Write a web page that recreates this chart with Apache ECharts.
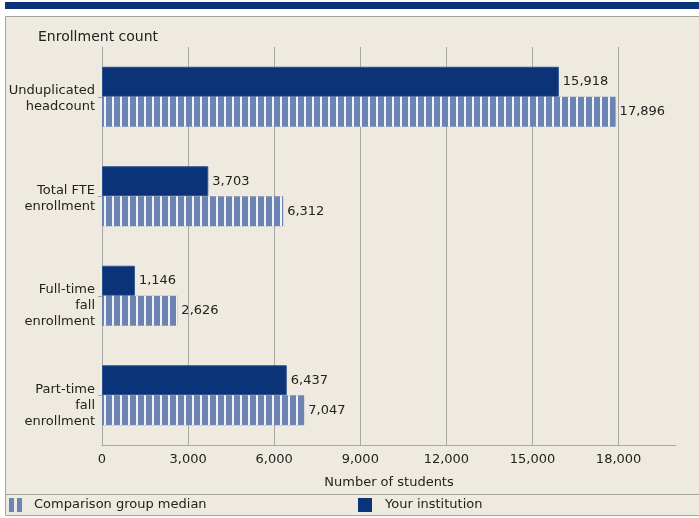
<!DOCTYPE html>
<html>
<head>
<meta charset="utf-8">
<script src="https://cdn.jsdelivr.net/npm/echarts@6/dist/echarts.min.js"></script>
<style>
  html, body { margin: 0; padding: 0; background: #ffffff; }
  #chart { width: 699px; height: 518px; }
</style>
</head>
<body>
<div id="chart"></div>
<script>
const categories = [
  'Unduplicated\nheadcount',
  'Total FTE\nenrollment',
  'Full-time\nfall\nenrollment',
  'Part-time\nfall\nenrollment'
];
const yourInstitution = [15918, 3703, 1146, 6437];
const comparisonMedian = [17896, 6312, 2626, 7047];
const xTicks = [0, 3000, 6000, 9000, 12000, 15000, 18000];
const xMax = 20000;

const FONT = '"DejaVu Sans", Verdana, sans-serif';
const TXT = '#222222';
const NAVY = '#0A3378';
const LIGHT = '#6C84B3';
const BG = '#EEEAE0';
const GRID = '#A8A8A2';

const fmt = v => Number(v).toLocaleString('en-US');

const chart = echarts.init(document.getElementById('chart'), null, { renderer: 'canvas' });

const splitColors = xTicks.map(() => GRID).concat(['rgba(0,0,0,0)']);

chart.setOption({
  animation: false,
  backgroundColor: '#ffffff',
  textStyle: { fontFamily: FONT },
  graphic: [
    { type: 'rect', z: -10, shape: { x: 5, y: 2, width: 694, height: 7 }, style: { fill: NAVY } },
    { type: 'rect', z: -10, shape: { x: 5.5, y: 16.5, width: 700, height: 499 }, style: { fill: BG, stroke: '#A5A49C', lineWidth: 1 } },
    { type: 'line', z: -9, shape: { x1: 5, y1: 494.5, x2: 699, y2: 494.5 }, style: { stroke: '#A5A49C', lineWidth: 1 } }
  ],
  title: {
    text: 'Enrollment count',
    left: 38, top: 30, padding: 0,
    textStyle: { fontFamily: FONT, fontSize: 14, fontWeight: 'normal', color: TXT }
  },
  legend: [
    {
      data: ['Comparison group median'],
      left: 9, top: 498, padding: 0,
      itemWidth: 13, itemHeight: 14,
      icon: 'path://M0,0h5v14h-5z M8,0h5v14h-5z',
      itemStyle: { decal: 'none', borderWidth: 0 },
      textStyle: { fontFamily: FONT, fontSize: 13, color: TXT, padding: [0, 0, 0, 7] }
    },
    {
      data: ['Your institution'],
      left: 358, top: 498, padding: 0,
      itemWidth: 14, itemHeight: 14,
      icon: 'rect',
      itemStyle: { borderWidth: 0 },
      textStyle: { fontFamily: FONT, fontSize: 13, color: TXT, padding: [0, 0, 0, 8] }
    }
  ],
  grid: { left: 102, right: 23, top: 47, bottom: 73, containLabel: false },
  xAxis: {
    type: 'value',
    min: 0, max: xMax, interval: 3000,
    name: 'Number of students',
    nameLocation: 'middle',
    nameGap: 31,
    nameTextStyle: { fontFamily: FONT, fontSize: 13, color: TXT },
    axisLine: { show: true, lineStyle: { color: GRID, width: 1 } },
    axisTick: { show: false },
    axisLabel: {
      fontFamily: FONT, fontSize: 13, color: TXT, margin: 8,
      showMaxLabel: false,
      formatter: v => fmt(v)
    },
    splitLine: { show: true, lineStyle: { color: splitColors, width: 1 } }
  },
  yAxis: {
    type: 'category',
    inverse: true,
    data: categories,
    axisLine: { show: true, lineStyle: { color: GRID } },
    axisTick: { show: true, alignWithLabel: true, length: 4, lineStyle: { color: GRID } },
    axisLabel: {
      fontFamily: FONT, fontSize: 13, color: TXT, lineHeight: 16,
      margin: 7, align: 'right', verticalAlign: 'top',
      padding: [-14, 0, 0, 0]
    }
  },
  series: [
    {
      name: 'Your institution',
      type: 'bar',
      data: yourInstitution,
      barWidth: 30,
      barGap: '0%',
      itemStyle: { color: NAVY, borderColor: '#2E4F8E', borderWidth: 1 },
      label: {
        show: true, position: 'right', distance: 4,
        fontFamily: FONT, fontSize: 13, color: TXT,
        formatter: p => fmt(p.value)
      }
    },
    {
      name: 'Comparison group median',
      type: 'bar',
      data: comparisonMedian,
      barWidth: 30,
      barGap: '0%',
      itemStyle: {
        color: LIGHT,
        decal: {
          symbol: 'rect',
          symbolSize: 1,
          color: '#F4F4F8',
          dashArrayX: [2, 6],
          dashArrayY: [4, 0],
          rotation: 0
        }
      },
      label: {
        show: true, position: 'right', distance: 4,
        fontFamily: FONT, fontSize: 13, color: TXT,
        formatter: p => fmt(p.value)
      }
    }
  ]
});
</script>
</body>
</html>
